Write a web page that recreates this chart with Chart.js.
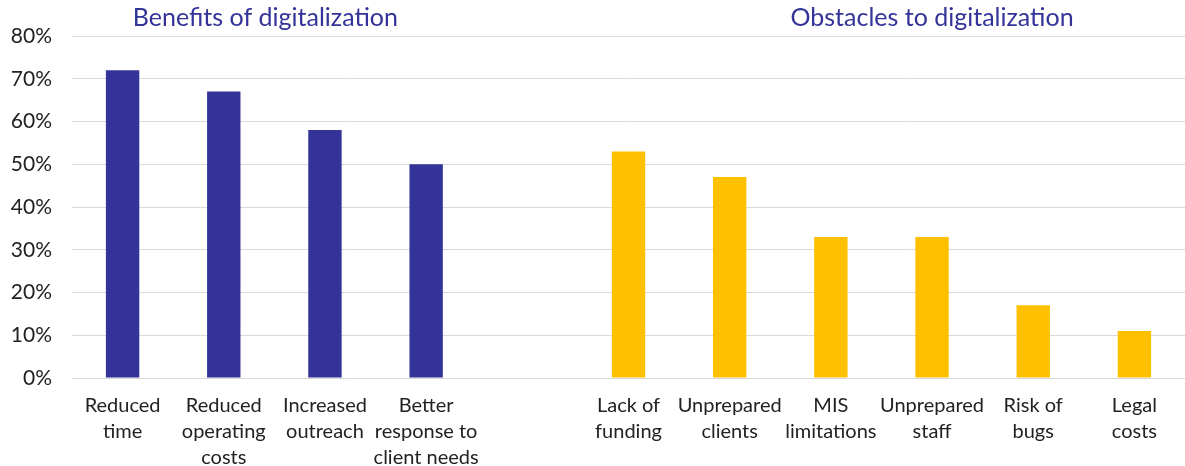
<!DOCTYPE html>
<html>
<head>
<meta charset="utf-8">
<script src="https://cdn.jsdelivr.net/npm/chart.js@4"></script>
<style>
  body { margin: 0; background: #fff; }
</style>
</head>
<body>
<canvas id="digitalChart" width="1185" height="466"></canvas>
<script>
// data
var benefitLabels = [['Reduced', 'time'], ['Reduced', 'operating', 'costs'], ['Increased', 'outreach'], ['Better', 'response to', 'client needs']];
var benefitValues = [72, 67, 58, 50];

var obstacleLabels = [['Lack of', 'funding'], ['Unprepared', 'clients'], ['MIS', 'limitations'], ['Unprepared', 'staff'], ['Risk of', 'bugs'], ['Legal', 'costs']];
var obstacleValues = [53, 47, 33, 33, 17, 11];

var groupTitles = ['Benefits of digitalization', 'Obstacles to digitalization'];
var yTicks = [0, 10, 20, 30, 40, 50, 60, 70, 80];

// one empty slot between the two groups
var labels = benefitLabels.concat([''], obstacleLabels);
var benefitData = benefitValues.concat(new Array(obstacleLabels.length + 1).fill(null));
var obstacleData = new Array(benefitLabels.length + 1).fill(null).concat(obstacleValues);

var fontFamily = 'Lato, "Noto Sans", sans-serif';

// draws the two group headings above the plot
var groupTitlePlugin = {
    id: 'groupTitles',
    afterDraw: function(chart) {
        var ctx = chart.ctx;
        var x = chart.scales.x;
        ctx.save();
        ctx.fillStyle = '#333399';
        ctx.font = '25px ' + fontFamily;
        ctx.textAlign = 'center';
        ctx.textBaseline = 'middle';
        var bx = (x.getPixelForValue(1) + x.getPixelForValue(2)) / 2 - 9;
        var ox = x.getPixelForValue(8);
        ctx.fillText(groupTitles[0], bx, 18);
        ctx.fillText(groupTitles[1], ox, 18);
        ctx.restore();
    }
};

var ctx = document.getElementById('digitalChart').getContext('2d');
var chart = new Chart(ctx, {
    type: 'bar',
    data: {
        labels: labels,
        datasets: [{
            label: 'Benefits',
            data: benefitData,
            backgroundColor: '#333399',
            barPercentage: 0.33,
            categoryPercentage: 1
        }, {
            label: 'Obstacles',
            data: obstacleData,
            backgroundColor: '#FFC000',
            barPercentage: 0.33,
            categoryPercentage: 1
        }]
    },
    options: {
        responsive: false,
        animation: false,
        grouped: false,
        layout: { padding: { top: 36, right: 0, left: 0, bottom: 0 } },
        plugins: {
            legend: { display: false },
            tooltip: { enabled: false }
        },
        scales: {
            x: {
                grid: { display: false },
                border: { color: '#d9d9d9', width: 1 },
                ticks: {
                    color: '#222',
                    font: { family: fontFamily, size: 20, lineHeight: 1.3 },
                    padding: 7,
                    maxRotation: 0,
                    autoSkip: false
                },
                afterFit: function(scale) { scale.height = 88; }
            },
            y: {
                min: 0,
                max: 80,
                afterBuildTicks: function(scale) {
                    scale.ticks = yTicks.map(function(v) { return { value: v }; });
                },
                grid: { color: '#d9d9d9', lineWidth: 1, drawTicks: false },
                border: { display: false },
                ticks: {
                    color: '#222',
                    font: { family: fontFamily, size: 21 },
                    padding: 20,
                    callback: function(v) { return v + '%'; }
                },
                afterFit: function(scale) { scale.width = 72; }
            }
        }
    },
    plugins: [groupTitlePlugin]
});
</script>
</body>
</html>
